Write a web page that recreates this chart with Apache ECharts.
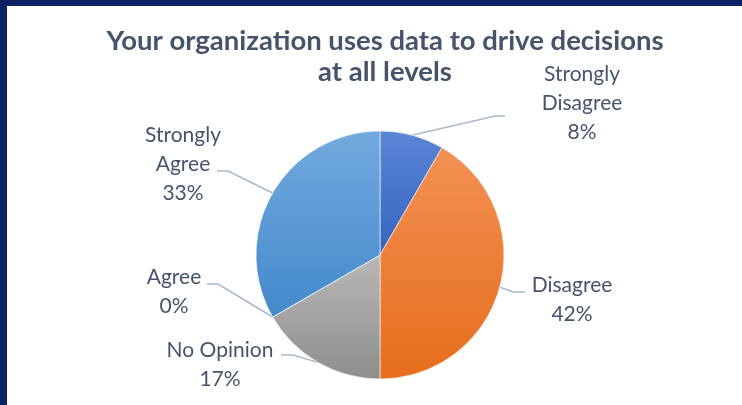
<!DOCTYPE html>
<html>
<head>
<meta charset="utf-8">
<script src="https://cdn.jsdelivr.net/npm/echarts@6/dist/echarts.min.js"></script>
<style>
  html, body { margin: 0; padding: 0; background: #fff; }
  #chart { position: absolute; left: 0; top: 0; width: 742px; height: 405px; }
  .edge { position: absolute; background: #0c2262; }
</style>
</head>
<body>
<div id="chart"></div>
<div class="edge" style="left:0;top:0;width:742px;height:6px"></div>
<div class="edge" style="left:0;top:0;width:7px;height:405px"></div>
<script>
// 数据
const categories = ['Strongly\nDisagree', 'Disagree', 'No Opinion', 'Agree', 'Strongly\nAgree']
const counts = [1, 5, 2, 0, 4]
const percentLabels = ['8%', '42%', '17%', '0%', '33%']

// 扇区颜色（上浅下深的渐变）
const topColors = ['#5b85d6', '#f39155', '#b8b8b8', '#ffcb33', '#72aade']
const bottomColors = ['#3563bf', '#e66d1b', '#8e8e8e', '#e6ac00', '#4489cc']

// 标签中心位置和引导线折点
const labelCenters = [[582, 103], [572, 300], [220, 365], [174, 292], [183, 164]]
const lineBends = [[495, 116], [513, 292], [293, 355], [218, 284], [228, 171]]
const lineEnds = [[505, 116], [525, 292], [281, 355], [207, 284], [217, 171]]

const chart = echarts.init(document.getElementById('chart'))

const option = {
  animation: false,
  title: {
    text: 'Your organization uses data to drive decisions\nat all levels',
    left: 380,
    textAlign: 'center',
    top: 21,
    textStyle: {
      fontFamily: 'Lato',
      fontWeight: 'bold',
      fontSize: 27.5,
      lineHeight: 31,
      color: '#44546a'
    }
  },
  series: [
    {
      type: 'pie',
      center: [380, 255],
      radius: 124,
      startAngle: 90,
      data: categories.map((name, i) => ({
        name: name,
        value: counts[i],
        itemStyle: {
          color: new echarts.graphic.LinearGradient(0, 0, 0, 1, [
            { offset: 0, color: topColors[i] },
            { offset: 1, color: bottomColors[i] }
          ])
        }
      })),
      itemStyle: {
        borderColor: '#ffffff',
        borderWidth: 0.6
      },
      label: {
        show: true,
        position: 'outside',
        formatter: (p) => p.name + '\n' + percentLabels[p.dataIndex],
        fontFamily: 'Lato',
        fontSize: 21,
        lineHeight: 29,
        color: '#44546a',
        align: 'center'
      },
      labelLine: {
        show: true,
        lineStyle: { color: '#aab7c9', width: 1.5 }
      },
      labelLayout: (p) => {
        const i = p.dataIndex
        return {
          x: labelCenters[i][0],
          y: labelCenters[i][1],
          align: 'center',
          verticalAlign: 'middle',
          labelLinePoints: [p.labelLinePoints[0], lineBends[i], lineEnds[i]].reverse()
        }
      }
    }
  ]
}

chart.setOption(option)
</script>
</body>
</html>
